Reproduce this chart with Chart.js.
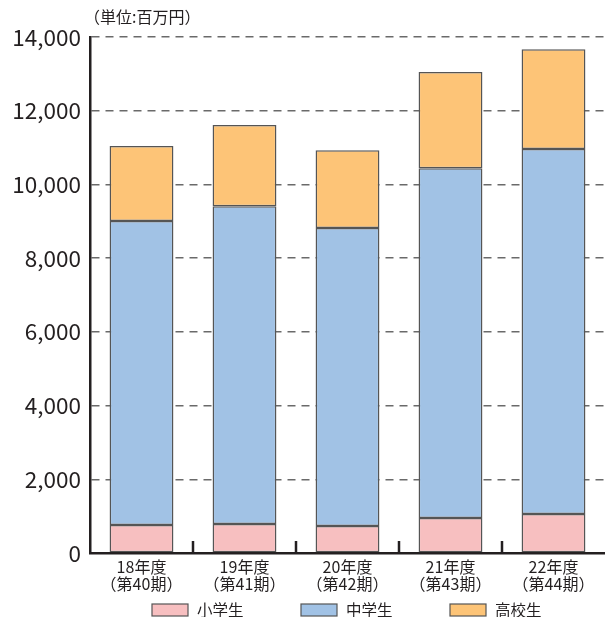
<!DOCTYPE html>
<html><head><meta charset="utf-8">
<script src="https://cdn.jsdelivr.net/npm/chart.js@4/dist/chart.umd.min.js"></script>
<style>html,body{margin:0;padding:0;background:#fff}#wrap{width:605px;height:617px}</style>
</head><body><div id="wrap"><canvas id="c" width="605" height="617"></canvas></div>
<script>
const categories = [["18年度","（第40期）"],["19年度","（第41期）"],["20年度","（第42期）"],["21年度","（第43期）"],["22年度","（第44期）"]];
const seriesNames = ["小学生","中学生","高校生"];
const elementary = [760, 790, 730, 950, 1060];
const juniorHigh = [8250, 8620, 8090, 9490, 9900];
const highSchool = [2030, 2200, 2110, 2610, 2710];
const unitLabel = "（単位:百万円）";
const colors = ["#F7BFC0", "#A1C2E5", "#FDC477"];
const FONT = "'Noto Sans CJK JP', 'Noto Sans', sans-serif";
const TEXT = "#231f20";

const extras = {
  id: 'extras',
  afterDatasetsDraw(chart) {
    const ctx = chart.ctx, x = chart.scales.x, area = chart.chartArea;
    ctx.save();
    ctx.strokeStyle = TEXT; ctx.lineWidth = 2.5;
    for (let i = 0; i < categories.length - 1; i++) {
      const px = Math.round((x.getPixelForValue(i) + x.getPixelForValue(i + 1)) / 2);
      ctx.beginPath(); ctx.moveTo(px, area.bottom); ctx.lineTo(px, area.bottom - 12); ctx.stroke();
    }
    ctx.restore();
  },
  afterDraw(chart) {
    const ctx = chart.ctx;
    ctx.save();
    ctx.fillStyle = TEXT;
    ctx.font = "16px " + FONT;
    ctx.textBaseline = "middle"; ctx.textAlign = "left";
    ctx.fillText(unitLabel, 84, 17);
    // legend
    const startX = [152, 301, 450];
    ctx.font = "15.5px " + FONT;
    chart.data.datasets.forEach((ds, i) => {
      const bx = startX[i], by = 604;
      ctx.fillStyle = ds.backgroundColor;
      ctx.fillRect(bx, by, 36, 12);
      ctx.strokeStyle = "#555"; ctx.lineWidth = 1.2;
      ctx.strokeRect(bx, by, 36, 12);
      ctx.fillStyle = TEXT;
      ctx.fillText(ds.label, bx + 45, by + 6);
    });
    ctx.restore();
  }
};

const mk = (label, data, color) => ({
  label, data, backgroundColor: color, borderColor: "#555", borderWidth: 1.5, borderSkipped: false,
  barPercentage: 0.62, categoryPercentage: 1.0
});

new Chart(document.getElementById('c'), {
  type: 'bar',
  data: {
    labels: categories,
    datasets: [mk(seriesNames[0], elementary, colors[0]), mk(seriesNames[1], juniorHigh, colors[1]), mk(seriesNames[2], highSchool, colors[2])]
  },
  options: {
    responsive: false, animation: false,
    layout: { padding: { top: 37, left: 0, right: 0, bottom: 0 } },
    plugins: { legend: { display: false }, tooltip: { enabled: false } },
    scales: {
      x: {
        stacked: true,
        grid: { display: false },
        border: { color: TEXT, width: 2.5 },
        ticks: { color: TEXT, font: { family: FONT, size: 16, lineHeight: 1.07 }, padding: -3, maxRotation: 0 },
        afterFit: s => { s.height = 64; }
      },
      y: {
        stacked: true, min: 0, max: 14000,
        ticks: { stepSize: 2000, color: TEXT, padding: 9, font: { family: FONT, size: 22.5 },
          callback: v => v.toLocaleString('en-US') },
        grid: { color: "#6a6a6a", lineWidth: 1.5, drawTicks: false },
        border: { color: TEXT, width: 2.5, dash: [8, 6] },
        afterFit: s => { s.width = 90; }
      }
    }
  },
  plugins: [extras]
});
</script></body></html>
